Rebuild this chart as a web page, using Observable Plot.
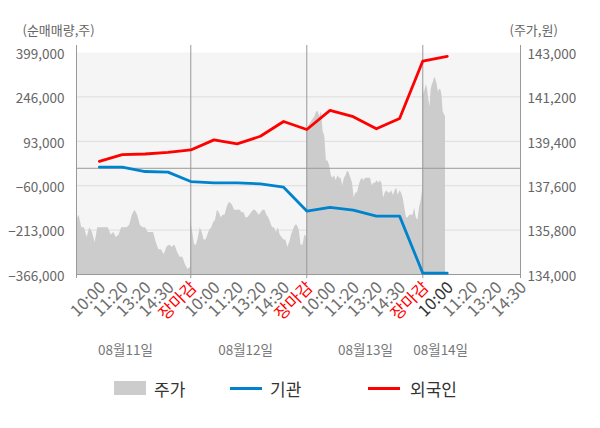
<!DOCTYPE html>
<html>
<head>
<meta charset="utf-8">
<script src="https://cdn.jsdelivr.net/npm/d3@7"></script>
<script src="https://cdn.jsdelivr.net/npm/@observablehq/plot@0.6"></script>
<style>
  body { margin: 0; background: #fff; font-family: "Noto Sans CJK KR", "Noto Sans", sans-serif; }
  #wrap { width: 600px; }
  #legend { position: relative; width: 600px; height: 44px; font-size: 17px; color: #333; }
  .item { position: absolute; top: 0; height: 44px; display: flex; align-items: center; }
  .sw { display: inline-block; margin-right: 8px; }
</style>
</head>
<body>
<div id="wrap">
  <div id="chart"></div>
  <div id="legend"></div>
</div>
<script>
// ---- data ----
const dayLabels = ["08월11일", "08월12일", "08월13일", "08월14일"];
const timeLabels = ["10:00", "11:20", "13:20", "14:30", "장마감",
                    "10:00", "11:20", "13:20", "14:30", "장마감",
                    "10:00", "11:20", "13:20", "14:30", "장마감",
                    "10:00", "11:20", "13:20", "14:30"];
const seriesNames = ["주가", "기관", "외국인"];

// cumulative net buy (shares), one point per time label
const foreign = [23600, 46800, 49300, 54800, 63200, 97900, 84000, 110300, 161400,
                 133600, 199500, 177700, 136000, 171800, 369600, 385900];
const institution = [4200, 4200, -11100, -13200, -45800, -50300, -50300, -53800, -65200,
                     -147500, -134600, -144000, -164800, -164800, -361600, -361600];

// intraday price (won)
const priceDay1 = [136200,136400,135900,135900,135500,135900,135700,135300,135900,135900,
  135900,135900,135900,135600,135700,135500,135600,135900,135900,135900,136000,136400,
  136600,136400,136000,135900,135900,135700,135700,135700,135300,135000,135000,134800,
  135100,135200,135100,135200,134900,134700,134700,134400,134200,134300];
const priceDay2 = [136200,135700,135200,135200,135500,135900,135700,135400,135400,135600,
  135800,135900,136100,136200,136600,136500,136300,136400,136400,136700,136900,136900,
  136800,136600,136600,136600,136600,136500,136500,136300,136300,136400,136500,136600,
  136600,136500,136400,136500,136600,136600,136400,136300,136100,135900,135900,135700,
  135900,135600,135500,135400,135400,135100,135300,135600,135800,136000,136000,135800,
  135200,135200,135600,135500];
const priceDay3 = [139800,140000,140100,140200,140300,140400,140600,140600,140400,140600,
  139800,139600,138600,138600,138400,138000,137900,138000,137800,138000,137900,137900,
  137600,137900,138000,138200,138100,137900,137700,137100,137300,137300,137600,137800,
  137900,137800,137900,137900,137900,137900,137600,137700,137700,137800,137700,137800,
  137700,137100,137300,137400,137300,137300,137400,137200,137400,137500,137200,137400,
  137300,137100,136700,136300,136300,136400,136400,136400,136700,136300,136200,136700,
  137000,137500];
const priceDay4 = [141800,141300,141500,141700,141500,141100,140800,141500,141700,141800,
  142000,141900,141700,141400,141500,141500,141300,140600,140500,140400];

const leftTicks = [-366000, -213000, -60000, 93000, 246000, 399000];
const rightTicks = [134000, 135800, 137600, 139400, 141200, 143000];

// ---- derived ----
const yMin = -366000, yMax = 399000, pMin = 134000, pMax = 143000;
const priceToY = p => yMin + (p - pMin) * (yMax - yMin) / (pMax - pMin);
const slotsPerDay = 5;
const days = [priceDay1, priceDay2, priceDay3, priceDay4];
const daySpan = [5, 5, 5, 0.93]; // last day: data up to ~10:00
const priceRows = [];
days.forEach((arr, d) => {
  arr.forEach((p, i) => {
    priceRows.push({x: d * slotsPerDay + (i / (arr.length - 1)) * daySpan[d], v: priceToY(p)});
  });
});
const foreignRows = foreign.map((v, i) => ({x: i + 1, v}));
const instRows = institution.map((v, i) => ({x: i + 1, v}));
const timeRows = timeLabels.map((t, i) => ({
  x: i + 1, t,
  c: t === "장마감" ? "#ff0000" : (i === 15 ? "#333333" : "#6e6e6e")
}));
const dateRows = dayLabels.map((t, i) => ({t, x: [2.14, 7.36, 12.53, 15.73][i]}));
const fmt = d3.format(",");

// slight unequal day widths (the last day's slots are a little wider)
const warp = d3.scaleLinear().domain([0, 5, 10, 15, 19]).range([0, 4.891, 9.855, 14.819, 19]);

const W = 600, H = 366;
const chart = Plot.plot({
  width: W, height: H,
  marginTop: 52, marginBottom: H - 274, marginLeft: 76, marginRight: 80,
  style: {fontFamily: '"Noto Sans CJK KR", "Noto Sans", sans-serif', fontSize: "13px", background: "#fff"},
  x: {domain: [0, 19], transform: warp, axis: null},
  y: {domain: [yMin, yMax], axis: null},
  marks: [
    Plot.frame({fill: "#f5f5f5", stroke: null}),
    Plot.ruleY(leftTicks.slice(1, -1), {stroke: "#dddddd", strokeWidth: 1}),
    Plot.areaY(priceRows, {x: "x", y1: yMin, y2: "v", fill: "#cccccc"}),
    Plot.ruleY([0], {stroke: "#999999", strokeWidth: 1}),
    Plot.ruleX([0, 5, 10, 15, 19], {stroke: "#999999", strokeWidth: 1, insetTop: -7, insetBottom: -4}),
    Plot.ruleY([yMin], {stroke: "#999999", strokeWidth: 1}),
    Plot.line(instRows, {x: "x", y: "v", stroke: "#0082cd", strokeWidth: 2.8}),
    Plot.line(foreignRows, {x: "x", y: "v", stroke: "#ff0000", strokeWidth: 2.8}),
    Plot.text(leftTicks, {y: d => d, frameAnchor: "left", text: d => fmt(d), textAnchor: "end", dx: -12, dy: 2, fill: "#666", fontSize: 13.5}),
    Plot.text(rightTicks, {y: d => priceToY(d), frameAnchor: "right", text: d => fmt(d), textAnchor: "start", dx: 7, dy: 2, fill: "#666", fontSize: 13.5}),
    Plot.text(["(순매매량,주)"], {frameAnchor: "top-left", lineAnchor: "middle", textAnchor: "start", dx: -54, dy: -22, fill: "#666"}),
    Plot.text(["(주가,원)"], {frameAnchor: "top-right", lineAnchor: "middle", textAnchor: "start", dx: -11, dy: -22, fill: "#666"}),
    Plot.text(timeRows, {x: "x", text: "t", frameAnchor: "bottom", rotate: -45, textAnchor: "end", dx: 7, dy: 14, fill: "c", fontSize: 16.5}),
    Plot.text(dateRows, {x: "x", text: "t", frameAnchor: "bottom", dy: 80, fill: "#777", fontSize: 13.5})
  ]
});
document.getElementById("chart").appendChild(chart);

// ---- legend ----
const legend = document.getElementById("legend");
const items = [
  {name: seriesNames[0], left: 114, sw: '<span class="sw" style="width:32px;height:14px;background:#cccccc"></span>'},
  {name: seriesNames[1], left: 230, sw: '<span class="sw" style="width:32px;height:3px;background:#0082cd"></span>'},
  {name: seriesNames[2], left: 368, sw: '<span class="sw" style="width:32px;height:3px;background:#ff0000;margin-right:10px"></span>'}
];
items.forEach(it => {
  const d = document.createElement("div");
  d.className = "item";
  d.style.left = it.left + "px";
  d.innerHTML = it.sw + "<span>" + it.name + "</span>";
  legend.appendChild(d);
});
</script>
</body>
</html>
